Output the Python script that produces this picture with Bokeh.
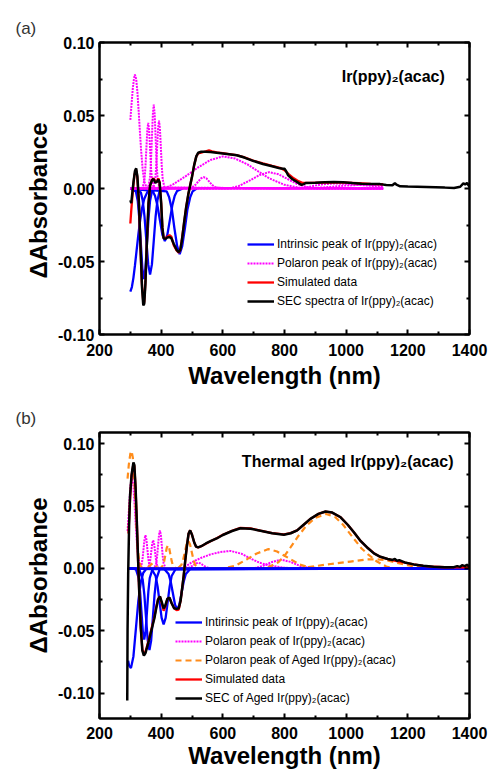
from bokeh.plotting import figure
from bokeh.models import (Range1d, FixedTicker, LinearAxis, Legend, LegendItem,
                          Label, PrintfTickFormatter, Title)
from bokeh.layouts import column
from bokeh.embed import file_html
from bokeh.resources import INLINE

FONT = "Liberation Sans"
BLUE = "#0000ff"
MAGENTA = "#ff00ff"
ORANGE = "#ff8c1a"
RED = "#ff0000"
BLACK = "#000000"

# ---------------- axis ticks ----------------
x_ticks = [200, 400, 600, 800, 1000, 1200, 1400]
x_minor = [300, 500, 700, 900, 1100, 1300]
y_ticks = [-0.10, -0.05, 0.0, 0.05, 0.10]
y_minor = [-0.075, -0.025, 0.025, 0.075]

# ---------------- panel (a) data ----------------
a_blue1_x = [300, 305, 310, 315, 320, 326, 332, 338, 345, 355, 370]
a_blue1_y = [-0.0707, -0.0675, -0.0612, -0.0527, -0.0431, -0.0316, -0.0215, -0.0136, -0.0072, -0.0025, -0.0003]
a_blue2_x = [300, 318, 324, 329, 334, 339, 344, 349, 354, 359, 364, 370, 390]
a_blue2_y = [0, -0.0021, -0.0084, -0.0201, -0.0376, -0.0547, -0.062, -0.0547, -0.0376, -0.0201, -0.0084, -0.0021, 0]
a_blue3_x = [300, 334, 340, 346, 352, 358, 364, 370, 376, 382, 388, 394, 410]
a_blue3_y = [0, -0.0026, -0.008, -0.0192, -0.0358, -0.052, -0.059, -0.052, -0.0358, -0.0192, -0.008, -0.0026, 0]
a_blue4_x = [300, 372, 380, 388, 396, 404, 412, 420, 428, 436, 444, 452, 470]
a_blue4_y = [0, -0.0016, -0.0049, -0.0117, -0.0218, -0.0318, -0.036, -0.0318, -0.0218, -0.0117, -0.0049, -0.0016, 0]
a_blue5_x = [300, 418, 426, 435, 443, 452, 460, 468, 477, 485, 494, 502, 515]
a_blue5_y = [0, -0.002, -0.0061, -0.0146, -0.0273, -0.0397, -0.045, -0.0397, -0.0273, -0.0146, -0.0061, -0.002, 0]

a_pol1_x = [300, 304, 308, 312, 315, 319, 323, 327, 331, 335, 340, 345, 352, 360, 1120]
a_pol1_y = [0.047, 0.058, 0.0685, 0.0755, 0.078, 0.075, 0.066, 0.053, 0.039, 0.026, 0.013, 0.005, 0.001, 0, 0]
a_pol2_x = [300, 340, 346, 349, 352, 355, 358, 361, 364, 367, 370, 376, 1120]
a_pol2_y = [0, 0.0005, 0.0061, 0.0146, 0.0273, 0.0397, 0.045, 0.0397, 0.0273, 0.0146, 0.0061, 0.0005, 0]
a_pol3_x = [300, 358, 364, 367, 370, 373, 376, 379, 382, 385, 388, 394, 1120]
a_pol3_y = [0, 0.0006, 0.0078, 0.0187, 0.0349, 0.0507, 0.0575, 0.0507, 0.0349, 0.0187, 0.0078, 0.0006, 0]
a_pol4_x = [300, 375, 381, 384, 387, 390, 393, 396, 399, 402, 405, 411, 1120]
a_pol4_y = [0, 0.0005, 0.0063, 0.0151, 0.0282, 0.041, 0.0465, 0.041, 0.0282, 0.0151, 0.0063, 0.0005, 0]
a_pol5_x = [300, 484, 502, 511, 520, 529, 538, 547, 556, 565, 574, 592, 1120]
a_pol5_y = [0, 0.0001, 0.0011, 0.0025, 0.0047, 0.0069, 0.0078, 0.0069, 0.0047, 0.0025, 0.0011, 0.0001, 0]
a_pol6_x = [300, 410, 440, 480, 520, 560, 600, 640, 680, 720, 750, 800, 850, 900, 1120]
a_pol6_y = [0, 0, 0.003, 0.0085, 0.0145, 0.0195, 0.022, 0.0205, 0.0165, 0.011, 0.007, 0.0025, 0.0005, 0, 0]
a_pol7_x = [300, 620, 650, 690, 720, 750, 780, 810, 840, 870, 900, 1120]
a_pol7_y = [0, 0, 0.0015, 0.0058, 0.0093, 0.0112, 0.0098, 0.0065, 0.0032, 0.0011, 0, 0]
a_pol8_x = [300, 850, 880, 920, 960, 1000, 1040, 1080, 1120]
a_pol8_y = [0, 0, 0.0012, 0.0028, 0.0035, 0.0032, 0.0025, 0.0018, 0.0012]
a_pol9_x = [300, 880, 940, 1000, 1060, 1120]
a_pol9_y = [0, 0, 0.001, 0.002, 0.0026, 0.0022]

a_sim_x = [300, 303, 308, 313, 318, 322, 327, 332, 337, 342, 345, 349, 354, 359, 364, 370, 375, 381,
           386, 391, 395, 400, 404, 408, 414, 420, 427, 433, 441, 450, 457, 462, 467, 474, 481, 488,
           494, 500, 507, 514, 520, 530, 545, 555, 565, 580, 600, 620, 645, 670, 700, 730, 760, 785,
           800, 815, 830, 845, 860, 880, 920, 960, 1000, 1040, 1080, 1120]
a_sim_y = [-0.024, -0.015, -0.002, 0.009, 0.013, 0.009, -0.006, -0.035, -0.064, -0.078, -0.078, -0.064,
           -0.035, -0.010, 0.002, 0.006, 0.007, 0.005, 0.005, 0.007, 0.004, -0.010, -0.027, -0.034,
           -0.034, -0.033, -0.032, -0.033, -0.039, -0.0425, -0.044, -0.042, -0.035, -0.024, -0.013,
           -0.004, 0.002, 0.008, 0.016, 0.022, 0.024, 0.0245, 0.0255, 0.0262, 0.0255, 0.0248, 0.0242,
           0.0236, 0.0228, 0.0213, 0.019, 0.0172, 0.0155, 0.0142, 0.0125, 0.0095, 0.007, 0.005, 0.0038,
           0.0038, 0.004, 0.0042, 0.004, 0.0036, 0.0032, 0.0029]

a_sec_x = [300, 303, 306, 310, 315, 319, 323, 328, 333, 338, 342, 345, 349, 354, 359, 364, 370, 375,
           381, 386, 391, 395, 400, 404, 408, 414, 420, 427, 433, 441, 450, 457, 462, 467, 474, 481,
           488, 494, 500, 507, 514, 520, 530, 545, 560, 580, 600, 620, 645, 670, 700, 730, 760, 785,
           795, 800, 805, 812, 825, 840, 855, 862, 870, 900, 930, 960, 990, 1020, 1050, 1080, 1110,
           1130, 1150, 1158, 1163, 1175, 1200, 1230, 1260, 1290, 1320, 1350, 1370, 1380, 1386, 1392,
           1400]
a_sec_y = [-0.008, -0.010, -0.004, 0.004, 0.012, 0.0138, 0.008, -0.010, -0.040, -0.068, -0.080,
           -0.079, -0.065, -0.035, -0.010, 0.002, 0.0055, 0.0065, 0.004, 0.0045, 0.0062, 0.004, -0.010,
           -0.027, -0.034, -0.0345, -0.0335, -0.0333, -0.034, -0.038, -0.042, -0.0435, -0.042, -0.036,
           -0.024, -0.013, -0.004, 0.002, 0.008, 0.016, 0.022, 0.0245, 0.0252, 0.0252, 0.025, 0.0245,
           0.024, 0.0235, 0.0228, 0.0212, 0.0188, 0.0168, 0.0152, 0.0138, 0.0136, 0.0135, 0.012, 0.009,
           0.0065, 0.0045, 0.0025, 0.003, 0.0038, 0.0039, 0.0042, 0.0045, 0.0043, 0.0037, 0.0033, 0.003,
           0.003, 0.0024, 0.0022, 0.0036, 0.0026, 0.0015, 0.0013, 0.0012, 0.001, 0.0008, 0.0006,
           0.0003, 0.0012, 0.0035, 0.0028, 0.0038, 0.0012]

# ---------------- panel (b) data ----------------
b_blue1_x = [293, 296, 302, 310, 318, 326, 334, 342, 350, 360, 1400]
b_blue1_y = [-0.074, -0.078, -0.080, -0.0706, -0.0485, -0.026, -0.0108, -0.0035, -0.0009, -0.0001, 0]
b_blue2_x = [293, 318, 327, 331.5, 336, 340.5, 345, 349.5, 354, 358.5, 363, 372, 1400]
b_blue2_y = [0, -0.0006, -0.0077, -0.0185, -0.0346, -0.0503, -0.057, -0.0503, -0.0346, -0.0185, -0.0077, -0.0006, 0]
b_blue3_x = [293, 329, 340, 345.5, 351, 356.5, 362, 367.5, 373, 378.5, 384, 395, 1400]
b_blue3_y = [0, -0.0007, -0.0088, -0.0213, -0.0398, -0.0578, -0.0655, -0.0578, -0.0398, -0.0213, -0.0088, -0.0007, 0]
b_blue4_x = [293, 369, 382, 388.5, 395, 401.5, 408, 414.5, 421, 427.5, 434, 447, 1400]
b_blue4_y = [0, -0.0005, -0.0061, -0.0146, -0.0273, -0.0397, -0.045, -0.0397, -0.0273, -0.0146, -0.0061, -0.0005, 0]
b_blue5_x = [293, 410, 424, 431, 438, 445, 452, 459, 466, 473, 480, 494, 1400]
b_blue5_y = [0, -0.0004, -0.0045, -0.0107, -0.020, -0.0291, -0.033, -0.0291, -0.020, -0.0107, -0.0045, -0.0004, 0]

b_pol1_x = [291, 295, 300, 305, 310, 315, 320, 325, 330, 338, 1400]
b_pol1_y = [0.030, 0.045, 0.065, 0.075, 0.066, 0.046, 0.025, 0.010, 0.003, 0, 0]
b_pol2_x = [293, 331, 337, 340, 343, 346, 349, 352, 355, 358, 361, 367, 1400]
b_pol2_y = [0, 0.0003, 0.0036, 0.0086, 0.0161, 0.0234, 0.0265, 0.0234, 0.0161, 0.0086, 0.0036, 0.0003, 0]
b_pol3_x = [293, 356, 362, 365, 368, 371, 374, 377, 380, 383, 386, 392, 1400]
b_pol3_y = [0, 0.0002, 0.003, 0.0073, 0.0137, 0.0198, 0.0225, 0.0198, 0.0137, 0.0073, 0.003, 0.0002, 0]
b_pol4_x = [293, 378, 384, 387, 390, 393, 396, 399, 402, 405, 408, 414, 1400]
b_pol4_y = [0, 0.0003, 0.0041, 0.0099, 0.0185, 0.0269, 0.0305, 0.0269, 0.0185, 0.0099, 0.0041, 0.0003, 0]
b_pol5_x = [293, 475, 490, 497.5, 505, 512.5, 520, 527.5, 535, 542.5, 550, 565, 1400]
b_pol5_y = [0, 0, 0.0006, 0.0015, 0.0027, 0.004, 0.0045, 0.004, 0.0027, 0.0015, 0.0006, 0, 0]
b_pol6_x = [293, 470, 500, 530, 560, 592, 625, 660, 690, 720, 745, 800, 850, 1400]
b_pol6_y = [0, 0, 0.005, 0.0085, 0.0112, 0.0132, 0.014, 0.0118, 0.0079, 0.0045, 0.0026, 0.0005, 0, 0]
b_pol7_x = [293, 700, 730, 760, 790, 820, 850, 880, 900, 1400]
b_pol7_y = [0, 0, 0.002, 0.0052, 0.007, 0.0052, 0.002, 0.0004, 0, 0]

b_aged1_x = [291, 295, 300, 304, 308, 312, 316, 320, 324, 328, 333, 340, 1400]
b_aged1_y = [0.072, 0.083, 0.092, 0.094, 0.089, 0.075, 0.055, 0.034, 0.017, 0.007, 0.002, 0, 0]
b_aged2_x = [293, 348, 356, 364, 372, 380, 388, 396, 1400]
b_aged2_y = [0, 0, 0.0005, 0.0024, 0.004, 0.0024, 0.0005, 0, 0]
b_aged3_x = [293, 398, 406, 410, 414, 418, 422, 426, 430, 434, 438, 446, 1400]
b_aged3_y = [0, 0.0002, 0.0025, 0.006, 0.0112, 0.0163, 0.0185, 0.0163, 0.0112, 0.006, 0.0025, 0.0002, 0]
b_aged4_x = [293, 455, 466, 471.5, 477, 482.5, 488, 493.5, 499, 504.5, 510, 521, 1400]
b_aged4_y = [0, 0.0002, 0.003, 0.0072, 0.0134, 0.0194, 0.022, 0.0194, 0.0134, 0.0072, 0.003, 0.0002, 0]
b_aged5_x = [293, 600, 640, 680, 710, 748, 776, 812, 850, 880, 920, 1400]
b_aged5_y = [0, 0, 0.002, 0.0076, 0.012, 0.0155, 0.0135, 0.0085, 0.003, 0.0008, 0, 0]
b_aged6_x = [293, 740, 780, 800, 820, 845, 870, 900, 935, 965, 990, 1025, 1050, 1070, 1100, 1130, 1160, 1400]
b_aged6_y = [0, 0, 0.005, 0.010, 0.017, 0.026, 0.034, 0.0405, 0.0437, 0.041, 0.035, 0.0238, 0.016, 0.0115, 0.0055, 0.0015, 0, 0]
b_aged7_x = [293, 850, 884, 950, 1014, 1068, 1100, 1133, 1165, 1198, 1241, 1280, 1400]
b_aged7_y = [0, 0, 0.0013, 0.0035, 0.0055, 0.0072, 0.0072, 0.0065, 0.0045, 0.0026, 0.0006, 0, 0]

b_sim_x = [294, 299, 304, 310, 313, 317, 321, 325, 329, 334, 339, 344, 349, 354, 360, 366, 372, 378,
           384, 390, 396, 402, 408, 413, 420, 427, 434, 442, 450, 457, 463, 468, 473, 478, 484, 489,
           494, 500, 507, 513, 520, 530, 545, 560, 580, 600, 630, 657, 690, 722, 760, 798, 820, 841,
           862, 884, 910, 933, 955, 982, 1005, 1025, 1045, 1068, 1090, 1111, 1135, 1160, 1190, 1219,
           1250, 1284, 1320, 1360, 1400]
b_sim_y = [0.028, 0.055, 0.074, 0.084, 0.082, 0.064, 0.037, 0.007, -0.021, -0.048, -0.065, -0.069,
           -0.067, -0.0625, -0.057, -0.051, -0.045, -0.039, -0.031, -0.0245, -0.0225, -0.028, -0.034,
           -0.031, -0.0245, -0.0235, -0.028, -0.032, -0.0335, -0.033, -0.026, -0.016, -0.006, 0.006,
           0.019, 0.028, 0.0305, 0.027, 0.021, 0.0175, 0.0168, 0.0178, 0.0198, 0.0218, 0.0242, 0.027,
           0.0302, 0.0325, 0.032, 0.0303, 0.0283, 0.0272, 0.0283, 0.0305, 0.035, 0.0397, 0.0437, 0.0455,
           0.0447, 0.041, 0.035, 0.029, 0.0225, 0.0168, 0.0122, 0.0092, 0.0074, 0.006, 0.0046, 0.0032,
           0.0021, 0.0013, 0.0009, 0.0008, 0.0008]

b_sec_x = [290, 291, 293, 296, 299, 304, 310, 313, 317, 321, 325, 329, 334, 339, 344, 349, 354, 360,
           366, 372, 378, 384, 390, 396, 402, 408, 413, 420, 427, 434, 442, 450, 457, 463, 468, 473,
           478, 484, 489, 494, 500, 507, 513, 520, 530, 545, 560, 580, 600, 630, 657, 690, 722, 760,
           798, 820, 841, 862, 884, 910, 933, 955, 982, 1005, 1025, 1045, 1068, 1090, 1111, 1135, 1150,
           1158, 1165, 1172, 1190, 1219, 1250, 1284, 1320, 1349, 1360, 1370, 1376, 1385, 1392, 1400]
b_sec_y = [-0.106, -0.05, -0.005, 0.035, 0.058, 0.075, 0.085, 0.083, 0.065, 0.038, 0.008, -0.020,
           -0.048, -0.066, -0.070, -0.068, -0.0635, -0.058, -0.052, -0.046, -0.040, -0.032, -0.025,
           -0.0225, -0.027, -0.032, -0.030, -0.0245, -0.0235, -0.028, -0.032, -0.0325, -0.032, -0.026,
           -0.016, -0.006, 0.006, 0.019, 0.028, 0.0305, 0.027, 0.021, 0.0175, 0.0168, 0.0178, 0.020,
           0.0218, 0.024, 0.0268, 0.030, 0.0322, 0.0318, 0.0302, 0.0282, 0.027, 0.0282, 0.0305, 0.035,
           0.0397, 0.0437, 0.0456, 0.0448, 0.041, 0.035, 0.029, 0.0225, 0.0168, 0.012, 0.0093, 0.0075,
           0.0068, 0.0075, 0.006, 0.0066, 0.0048, 0.0032, 0.0021, 0.0013, 0.001, 0.001, 0.0018, 0.0012,
           0.0026, 0.0018, 0.003, 0.001]

a_labels = ["Intrinsic peak of Ir(ppy)\u2082(acac)", "Polaron peak of Ir(ppy)\u2082(acac)",
            "Simulated data", "SEC spectra of Ir(ppy)\u2082(acac)"]
b_labels = ["Intirinsic peak of Ir(ppy)\u2082(acac)", "Polaron peak of Ir(ppy)\u2082(acac)",
            "Polaron peak of Aged Ir(ppy)\u2082(acac)", "Simulated data",
            "SEC of Aged Ir(ppy)\u2082(acac)"]
a_name = "Ir(ppy)\u2082(acac)"
b_name = "Thermal aged Ir(ppy)\u2082(acac)"


def make_fig(height, ymin, ymax, left, top, bottom, tag, tick_standoff, label_standoff, ylabel):
    p = figure(width=488, height=height, x_range=Range1d(200, 1400), y_range=Range1d(ymin, ymax),
               output_backend="svg", toolbar_location=None,
               min_border_left=left, min_border_right=19, min_border_top=top,
               min_border_bottom=bottom)
    p.grid.visible = False
    p.outline_line_color = "black"
    p.outline_line_width = 2
    p.background_fill_color = "white"
    p.border_fill_color = "white"
    bottom_ax = p.xaxis[0]
    left_ax = p.yaxis[0]
    xt = FixedTicker(ticks=x_ticks, minor_ticks=x_minor)
    yt = FixedTicker(ticks=y_ticks, minor_ticks=y_minor)
    top_ax = LinearAxis(ticker=xt)
    right_ax = LinearAxis(ticker=yt)
    bottom_ax.ticker = xt
    left_ax.ticker = yt
    for ax in (bottom_ax, left_ax, top_ax, right_ax):
        ax.axis_line_width = 2
        ax.major_tick_in = 5
        ax.major_tick_out = 0
        ax.minor_tick_in = 3
        ax.minor_tick_out = 0
        ax.major_tick_line_width = 2
        ax.minor_tick_line_width = 2
        ax.major_label_text_font = FONT
        ax.major_label_text_font_style = "bold"
        ax.major_label_text_font_size = "16px"
        ax.major_label_text_color = "black"
        ax.axis_label_text_font = FONT
        ax.axis_label_text_font_style = "bold"
        ax.axis_label_text_font_size = "24px"
        ax.axis_label_text_color = "black"
    top_ax.major_label_overrides = {t: "" for t in x_ticks}
    right_ax.major_label_overrides = {t: "" for t in y_ticks}
    for ax in (top_ax, right_ax):
        ax.major_label_text_font_size = "1px"
        ax.major_label_standoff = 0
    p.add_layout(top_ax, "above")
    p.add_layout(right_ax, "right")
    bottom_ax.formatter = PrintfTickFormatter(format="%d")
    left_ax.formatter = PrintfTickFormatter(format="%.2f")
    bottom_ax.axis_label = "Wavelength (nm)"
    left_ax.axis_label = ylabel
    bottom_ax.major_label_standoff = tick_standoff
    bottom_ax.axis_label_standoff = label_standoff
    left_ax.major_label_standoff = 5
    left_ax.axis_label_standoff = 3
    p.title = Title(text=tag, align="left", offset=-84, text_font=FONT, text_font_size="17px",
                    text_font_style="normal", text_color="#333333")
    return p


def style_legend(lg, loc):
    lg.location = loc
    lg.label_text_font = FONT
    lg.label_text_font_size = "12px"
    lg.label_text_color = "black"
    lg.glyph_width = 27
    lg.glyph_height = 14
    lg.label_height = 14
    lg.spacing = 5
    lg.padding = 0
    lg.margin = 0
    lg.label_standoff = 3
    lg.border_line_alpha = 0
    lg.background_fill_alpha = 0


# ---------------- panel (a) ----------------
pa = make_fig(391, -0.10, 0.10, 95, 42, 56, "(a)", 9, 3, "\u0394Absorbance\u2002\u2002")
blue_r = None
for xs, ys in [(a_blue1_x, a_blue1_y), (a_blue2_x, a_blue2_y), (a_blue3_x, a_blue3_y),
               (a_blue4_x, a_blue4_y), (a_blue5_x, a_blue5_y)]:
    r = pa.line(xs, ys, line_color=BLUE, line_width=2.3)
    blue_r = blue_r or r
pol_r = None
for i, (xs, ys) in enumerate([(a_pol1_x, a_pol1_y), (a_pol2_x, a_pol2_y), (a_pol3_x, a_pol3_y),
                              (a_pol4_x, a_pol4_y), (a_pol5_x, a_pol5_y), (a_pol6_x, a_pol6_y),
                              (a_pol7_x, a_pol7_y), (a_pol8_x, a_pol8_y), (a_pol9_x, a_pol9_y)]):
    r = pa.line(xs, ys, line_color=MAGENTA, line_width=2, line_dash="2 1", line_dash_offset=i % 3)
    pol_r = pol_r or r
sim_r = pa.line(a_sim_x, a_sim_y, line_color=RED, line_width=2.3)
sec_r = pa.line(a_sec_x, a_sec_y, line_color=BLACK, line_width=2.5)
lga = Legend(items=[LegendItem(label=a_labels[0], renderers=[blue_r]),
                    LegendItem(label=a_labels[1], renderers=[pol_r]),
                    LegendItem(label=a_labels[2], renderers=[sim_r]),
                    LegendItem(label=a_labels[3], renderers=[sec_r])])
style_legend(lga, (148, 26))
pa.add_layout(lga)
pa.add_layout(Label(x=1320, y=0.0768, text=a_name, text_align="right", text_baseline="middle",
                    text_font=FONT, text_font_size="16px", text_font_style="bold", text_color="black"))

# ---------------- panel (b) ----------------
pb = make_fig(380, -0.1204, 0.109, 99, 41, 52, "(b)", 8, 0, "\u0394Absorbance")
pol_rb = None
for i, (xs, ys) in enumerate([(b_pol1_x, b_pol1_y), (b_pol2_x, b_pol2_y), (b_pol3_x, b_pol3_y),
                              (b_pol4_x, b_pol4_y), (b_pol5_x, b_pol5_y), (b_pol6_x, b_pol6_y),
                              (b_pol7_x, b_pol7_y)]):
    r = pb.line(xs, ys, line_color=MAGENTA, line_width=2, line_dash="2 1")
    pol_rb = pol_rb or r
aged_rb = None
for xs, ys in [(b_aged1_x, b_aged1_y), (b_aged2_x, b_aged2_y), (b_aged3_x, b_aged3_y),
               (b_aged4_x, b_aged4_y), (b_aged5_x, b_aged5_y), (b_aged6_x, b_aged6_y),
               (b_aged7_x, b_aged7_y)]:
    r = pb.line(xs, ys, line_color=ORANGE, line_width=2.2, line_dash="6 4")
    aged_rb = aged_rb or r
blue_rb = None
for xs, ys in [(b_blue1_x, b_blue1_y), (b_blue2_x, b_blue2_y), (b_blue3_x, b_blue3_y),
               (b_blue4_x, b_blue4_y), (b_blue5_x, b_blue5_y)]:
    r = pb.line(xs, ys, line_color=BLUE, line_width=2.3)
    blue_rb = blue_rb or r
sim_rb = pb.line(b_sim_x, b_sim_y, line_color=RED, line_width=2.3)
sec_rb = pb.line(b_sec_x, b_sec_y, line_color=BLACK, line_width=2.5)
lgb = Legend(items=[LegendItem(label=b_labels[0], renderers=[blue_rb]),
                    LegendItem(label=b_labels[1], renderers=[pol_rb]),
                    LegendItem(label=b_labels[2], renderers=[aged_rb]),
                    LegendItem(label=b_labels[3], renderers=[sim_rb]),
                    LegendItem(label=b_labels[4], renderers=[sec_rb])])
style_legend(lgb, (76, 13))
pb.add_layout(lgb)
pb.add_layout(Label(x=1348, y=0.086, text=b_name, text_align="right", text_baseline="middle",
                    text_font=FONT, text_font_size="16px", text_font_style="bold", text_color="black"))

layout = column(pa, pb, spacing=0)
open("out.html", "w").write(file_html(layout, INLINE))
